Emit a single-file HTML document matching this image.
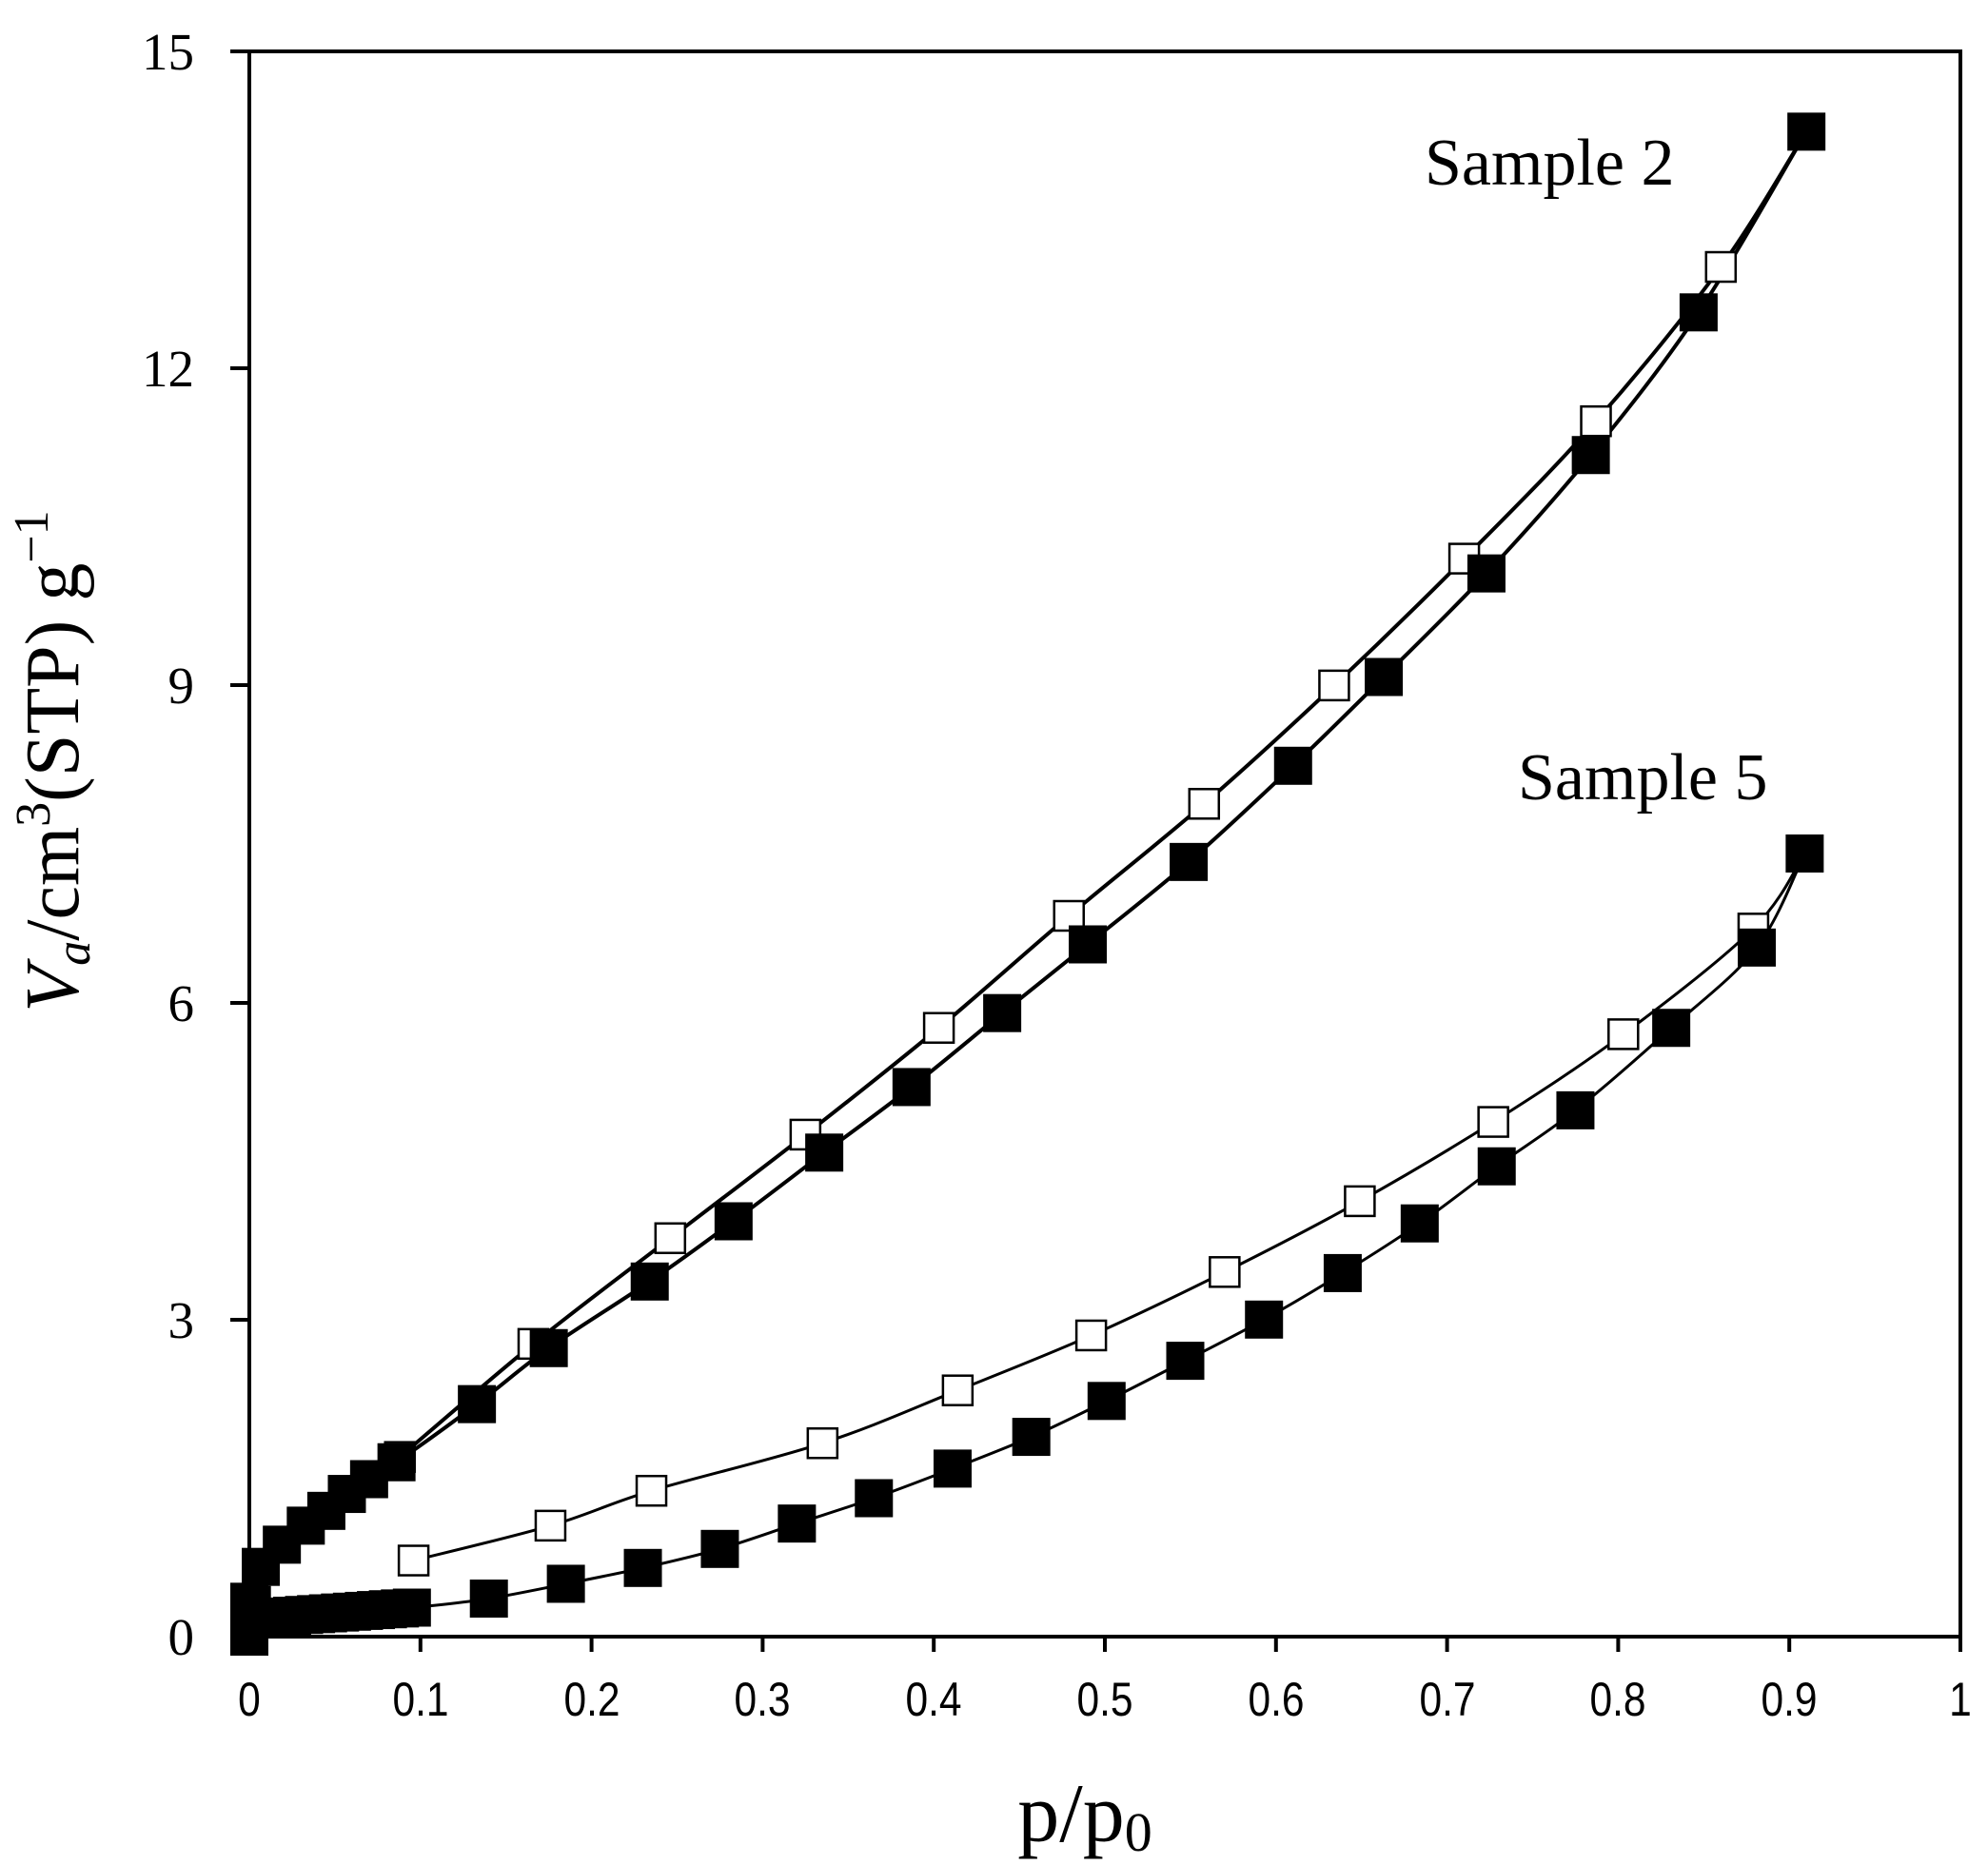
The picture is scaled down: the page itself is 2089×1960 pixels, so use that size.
<!DOCTYPE html>
<html><head><meta charset="utf-8"><style>
html,body{margin:0;padding:0;background:#fff;}
svg{display:block;}
</style></head><body>
<svg id="s" width="2089" height="1960" viewBox="0 0 2089 1960" xmlns="http://www.w3.org/2000/svg">
<rect width="2089" height="1960" fill="#fff"/>
<g id="lines" fill="none" stroke="#000" stroke-linejoin="round"></g>
<g id="marks"></g>
<rect x="262" y="54" width="1798" height="1666" fill="none" stroke="#000" stroke-width="4"/>
<g stroke="#000" stroke-width="4">
<line x1="242" y1="54" x2="262" y2="54"/><line x1="242" y1="387" x2="262" y2="387"/><line x1="242" y1="720" x2="262" y2="720"/><line x1="242" y1="1054" x2="262" y2="1054"/><line x1="242" y1="1387" x2="262" y2="1387"/><line x1="242" y1="1720" x2="262" y2="1720"/>
</g>
<g id="xt" stroke="#000" stroke-width="4"></g>
<g font-family="Liberation Serif, serif" font-size="55" text-anchor="end">
<text x="204" y="73">15</text><text x="204" y="406">12</text><text x="204" y="739">9</text><text x="204" y="1073">6</text><text x="204" y="1406">3</text><text x="204" y="1739">0</text>
</g>
<g font-family="Liberation Sans, sans-serif" font-size="50" text-anchor="middle">
<text transform="translate(262,1803) scale(0.85,1)">0</text><text transform="translate(442,1803) scale(0.85,1)">0.1</text><text transform="translate(622,1803) scale(0.85,1)">0.2</text><text transform="translate(801,1803) scale(0.85,1)">0.3</text><text transform="translate(981,1803) scale(0.85,1)">0.4</text><text transform="translate(1161,1803) scale(0.85,1)">0.5</text><text transform="translate(1341,1803) scale(0.85,1)">0.6</text><text transform="translate(1521,1803) scale(0.85,1)">0.7</text><text transform="translate(1700,1803) scale(0.85,1)">0.8</text><text transform="translate(1880,1803) scale(0.85,1)">0.9</text><text transform="translate(2060,1803) scale(0.85,1)">1</text>
</g>
<text x="1140" y="1935" font-family="Liberation Serif, serif" font-size="88" text-anchor="middle">p/p<tspan font-size="58" dy="10">0</tspan></text>
<text transform="translate(82,800) rotate(-90)" font-family="Liberation Serif, serif" font-size="80" text-anchor="middle"><tspan font-style="italic">V</tspan><tspan font-style="italic" font-size="52" dy="12">a</tspan><tspan dy="-12">/cm</tspan><tspan font-size="52" dy="-30">3</tspan><tspan dy="30">(STP) g</tspan><tspan font-size="52" dy="-32">−1</tspan></text>
<text x="1497" y="194" font-family="Liberation Serif, serif" font-size="70">Sample 2</text>
<text x="1595" y="840" font-family="Liberation Serif, serif" font-size="70">Sample 5</text>
</svg>
<script>
var X=function(p){return 262+p*1798;},Y=function(v){return 1720-v*111.07;};
var NS="http://www.w3.org/2000/svg";
var xt=document.getElementById('xt');
for(var i=0;i<=10;i++){var l=document.createElementNS(NS,'line');var x=X(i/10);l.setAttribute('x1',x);l.setAttribute('x2',x);l.setAttribute('y1',1720);l.setAttribute('y2',1736);xt.appendChild(l);}
var s2a=[[0,0],[0.0015,0.3],[0.0067,0.66],[0.019,0.87],[0.033,1.05],[0.045,1.19],[0.057,1.35],[0.070,1.49],[0.086,1.65],[0.133,2.2],[0.175,2.73],[0.234,3.36],[0.283,3.93],[0.336,4.58],[0.387,5.2],[0.44,5.9],[0.49,6.55],[0.549,7.33],[0.61,8.24],[0.663,9.08],[0.723,10.06],[0.784,11.18],[0.847,12.53],[0.91,14.24]];
var s2d=[[0.088,1.7],[0.166,2.77],[0.246,3.77],[0.325,4.75],[0.403,5.76],[0.479,6.82],[0.558,7.88],[0.634,9.0],[0.71,10.2],[0.787,11.5],[0.86,12.96]];
var s5lo=[[0,0.0],[0,0.12],[0,0.22],[0,0.33]];
for(var p=0.004;p<=0.101;p+=0.007){s5lo.push([p,0.17+p*1.1]);}
var s5a=s5lo.concat([[0.14,0.36],[0.185,0.5],[0.23,0.65],[0.275,0.83],[0.32,1.07],[0.365,1.31],[0.411,1.59],[0.457,1.89],[0.501,2.23],[0.547,2.61],[0.593,3.0],[0.639,3.44],[0.684,3.91],[0.729,4.45],[0.775,4.98],[0.831,5.76],[0.881,6.52],[0.909,7.41]]);
var s5d=[[0.096,0.72],[0.176,1.05],[0.235,1.38],[0.335,1.83],[0.414,2.33],[0.492,2.85],[0.57,3.45],[0.649,4.12],[0.727,4.87],[0.803,5.7],[0.879,6.7]];
function path(pts,w){var P=pts.map(function(q){return [X(q[0]),Y(q[1])];});var d='M'+P[0][0].toFixed(1)+','+P[0][1].toFixed(1);
for(var i=0;i<P.length-1;i++){var p0=P[Math.max(i-1,0)],p1=P[i],p2=P[i+1],p3=P[Math.min(i+2,P.length-1)];
var c1=[p1[0]+(p2[0]-p0[0])/6,p1[1]+(p2[1]-p0[1])/6],c2=[p2[0]-(p3[0]-p1[0])/6,p2[1]-(p3[1]-p1[1])/6];
d+='C'+c1[0].toFixed(1)+','+c1[1].toFixed(1)+' '+c2[0].toFixed(1)+','+c2[1].toFixed(1)+' '+p2[0].toFixed(1)+','+p2[1].toFixed(1);}
var e=document.createElementNS(NS,'path');e.setAttribute('d',d);e.setAttribute('stroke-width',w);document.getElementById('lines').appendChild(e);}
path(s2a.slice(1),4);
path(s2d.concat([[0.91,14.24]]),4);
path([[0.1,0.28],[0.14,0.36]].concat(s5a.slice(s5lo.length+1)),3);
path(s5d.concat([[0.909,7.41]]),3);
var m=document.getElementById('marks');
function sq(pts,filled,sz){pts.forEach(function(q){var r=document.createElementNS(NS,'rect');r.setAttribute('x',X(q[0])-sz/2);r.setAttribute('y',Y(q[1])-sz/2);r.setAttribute('width',sz);r.setAttribute('height',sz);if(filled){r.setAttribute('fill','#000');}else{r.setAttribute('fill','#fff');r.setAttribute('stroke','#000');r.setAttribute('stroke-width','2.5');}m.appendChild(r);});}
sq(s2d,false,31);sq(s5d,false,31);
sq(s2a.slice(1),true,40);sq(s5a,true,40);
</script>
</body></html>
